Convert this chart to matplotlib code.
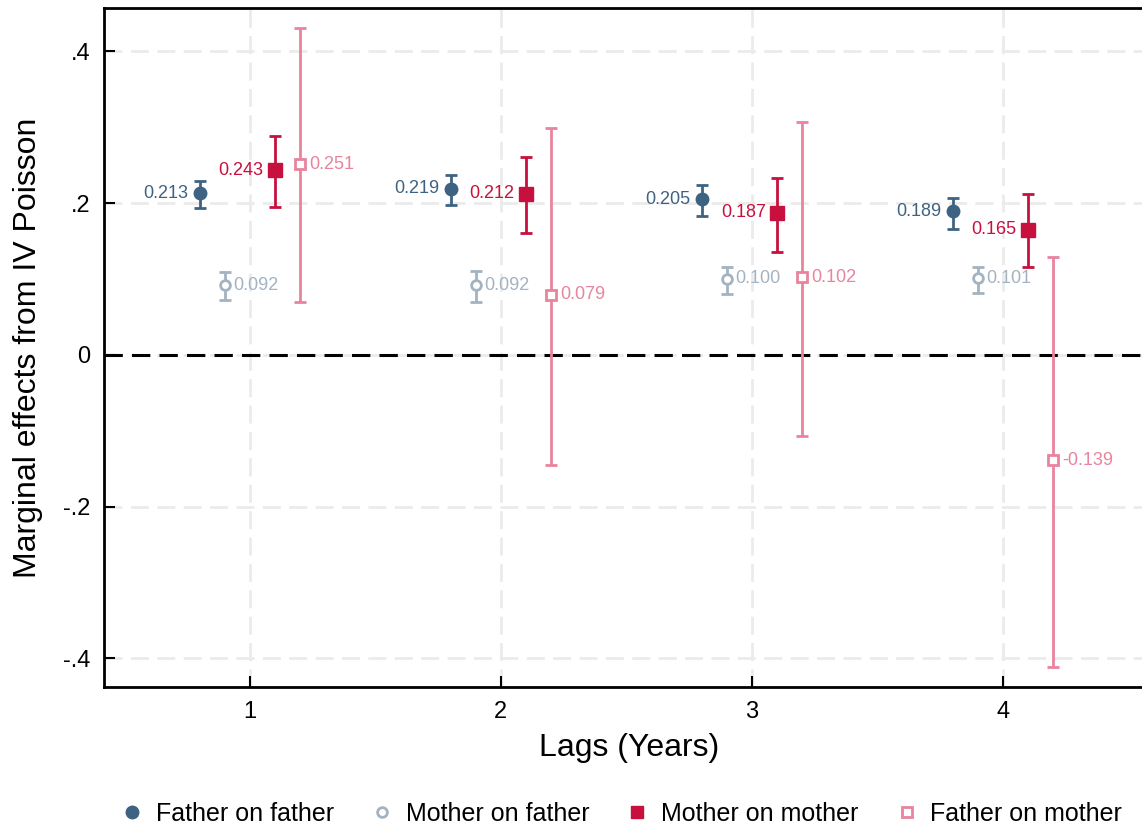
import numpy as np
import matplotlib.pyplot as plt
from matplotlib.lines import Line2D

plt.rcParams["font.family"] = ["Liberation Sans", "DejaVu Sans"]

# ================= data =================
lags = [1, 2, 3, 4]

ff_est = [0.213, 0.219, 0.205, 0.189]
ff_lo = [0.194, 0.198, 0.183, 0.166]
ff_hi = [0.229, 0.237, 0.224, 0.207]

mf_est = [0.092, 0.092, 0.100, 0.101]
mf_lo = [0.0725, 0.070, 0.080, 0.082]
mf_hi = [0.109, 0.111, 0.116, 0.116]

mm_est = [0.243, 0.212, 0.187, 0.165]
mm_lo = [0.195, 0.161, 0.136, 0.116]
mm_hi = [0.289, 0.261, 0.233, 0.212]

fm_est = [0.251, 0.079, 0.102, -0.139]
fm_lo = [0.070, -0.145, -0.107, -0.411]
fm_hi = [0.430, 0.299, 0.307, 0.129]

series = [
    ("Father on father", ff_est, ff_lo, ff_hi, -0.2, "#3e6382", "o", True, "left"),
    ("Mother on father", mf_est, mf_lo, mf_hi, -0.1, "#a3b3c1", "o", False, "right"),
    ("Mother on mother", mm_est, mm_lo, mm_hi, 0.1, "#c8103e", "s", True, "left"),
    ("Father on mother", fm_est, fm_lo, fm_hi, 0.2, "#e8849d", "s", False, "right"),
]

fig = plt.figure(figsize=(11.42, 8.26), dpi=100)
ax = fig.add_axes([104 / 1142, 1 - 687 / 826, 1.01 - 104 / 1142, (687 - 8) / 826])

for label, est, lo, hi, off, col, mk, filled, side in series:
    x = np.array(lags) + off
    est = np.array(est)
    yerr = [est - np.array(lo), np.array(hi) - est]
    ax.errorbar(x, est, yerr=yerr, fmt="none", ecolor=col, elinewidth=2,
                capsize=4.3, capthick=2, zorder=3)
    if filled:
        ax.plot(x, est, mk, color=col, markersize=9.5 if mk == "s" else 9,
                linestyle="none", zorder=4)
    else:
        ax.plot(x, est, mk, markerfacecolor="white", markeredgecolor=col,
                markeredgewidth=2, markersize=7, linestyle="none", zorder=4)
    for xi, yi in zip(x, est):
        if side == "left":
            ax.text(xi - 0.045, yi, f"{yi:.3f}", color=col, fontsize=13,
                    ha="right", va="center")
        else:
            ax.text(xi + 0.035, yi, f"{yi:.3f}", color=col, fontsize=13,
                    ha="left", va="center")

ax.axhline(0, color="black", linestyle=(0, (6, 3)), linewidth=2.2, zorder=2)

ax.set_xlim(0.419, 4.6)
ax.set_ylim(-0.4376, 0.457)
ax.set_xticks(lags)
ax.set_yticks([-0.4, -0.2, 0, 0.2, 0.4])
ax.set_yticklabels(["-.4", "-.2", "0", ".2", ".4"])
ax.tick_params(direction="in", length=8, width=1.5, labelsize=17)
ax.tick_params(axis="x", pad=10)
ax.tick_params(axis="y", pad=10)
ax.grid(True, color="#ebebeb", linestyle=(0, (6.5, 3)), linewidth=2)
ax.set_axisbelow(True)
for s in ax.spines.values():
    s.set_linewidth(2)

ax.set_xlabel("Lags (Years)", fontsize=23, labelpad=7)
ax.set_ylabel("Marginal effects from IV Poisson", fontsize=23)
ax.yaxis.set_label_coords(-0.058, 0.5)

handles = []
for label, est, lo, hi, off, col, mk, filled, side in series:
    if filled:
        h = Line2D([], [], marker=mk, color=col, linestyle="none", markersize=9)
    else:
        h = Line2D([], [], marker=mk, markerfacecolor="white", markeredgecolor=col,
                   markeredgewidth=2, linestyle="none", markersize=7)
    handles.append(h)
fig.legend(handles, [s[0] for s in series], loc="lower center", ncol=4,
           frameon=False, fontsize=18, bbox_to_anchor=(0.541, -0.027),
           handlelength=1.5, handletextpad=0.2, columnspacing=1.17)

fig.savefig("out.png", dpi=100)
